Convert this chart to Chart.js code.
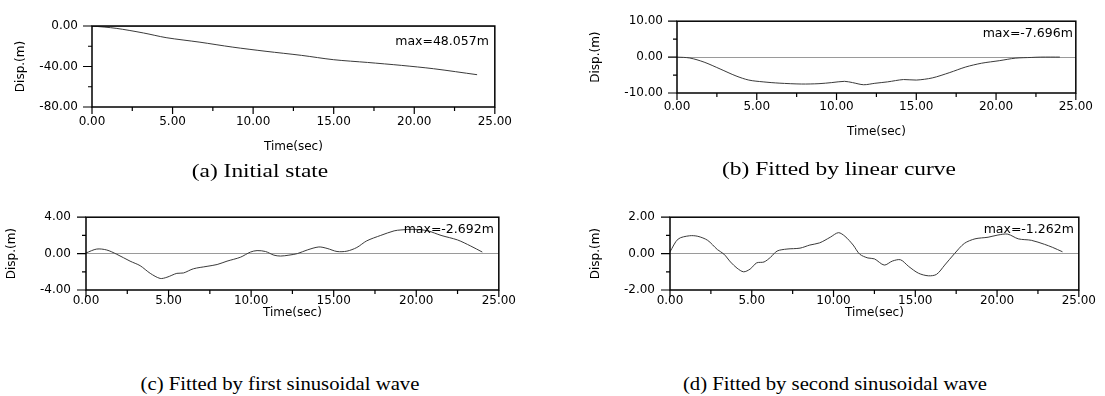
<!DOCTYPE html>
<html>
<head>
<meta charset="utf-8">
<script src="https://cdn.jsdelivr.net/npm/chart.js@4.4.1/dist/chart.umd.min.js"></script>
<style>
    body { margin: 0; background: #fff; }
    #lienzo { position: relative; width: 1105px; height: 396px; overflow: hidden; background: #fff; }
    .grafico { position: absolute; }
    .leyenda {
        position: absolute;
        font-family: 'Liberation Serif', 'Times New Roman', serif;
        font-size: 18px;
        color: #000;
        white-space: nowrap;
    }
</style>
</head>
<body>
<div id="lienzo">
    <canvas id="graficoA" class="grafico" width="520" height="165" style="left:0px;top:0px;"></canvas>
    <canvas id="graficoB" class="grafico" width="560" height="150" style="left:540px;top:0px;"></canvas>
    <canvas id="graficoC" class="grafico" width="520" height="135" style="left:0px;top:195px;"></canvas>
    <canvas id="graficoD" class="grafico" width="560" height="135" style="left:540px;top:195px;"></canvas>

    <div class="leyenda" style="left:260px;top:171px;transform:translate(-50%,-50%) scaleX(1.3);">(a) Initial state</div>
    <div class="leyenda" style="left:839px;top:169px;transform:translate(-50%,-50%) scaleX(1.3);">(b) Fitted by linear curve</div>
    <div class="leyenda" style="left:280px;top:384px;transform:translate(-50%,-50%) scaleX(1.15);">(c) Fitted by first sinusoidal wave</div>
    <div class="leyenda" style="left:835px;top:384px;transform:translate(-50%,-50%) scaleX(1.15);">(d) Fitted by second sinusoidal wave</div>
</div>

<script>
// Datos
const tiempoA = [0, 1.5, 3.2, 4.6, 6.7, 8.7, 10.8, 13.0, 15.0, 17.1, 19.2, 21.2, 23.9];
const despA = [0, -2.3, -6.9, -11.5, -16.0, -20.8, -25.0, -29.0, -33.3, -36.0, -38.9, -42.2, -48.1];

const tiempoB = [0, 0.8, 1.7, 2.7, 3.7, 4.5, 5.4, 6.4, 7.8, 8.9, 9.7, 10.5, 11.0, 11.7, 12.4, 13.2,
    14.2, 15.0, 16.0, 17.1, 18.1, 19.1, 20.2, 21.2, 22.2, 22.8, 24.0];
const despB = [0, -0.25, -1.4, -3.3, -5.25, -6.4, -6.9, -7.25, -7.5, -7.4, -7.1, -6.75, -7.1, -7.7, -7.3, -6.9,
    -6.25, -6.4, -5.8, -4.3, -2.75, -1.7, -1.0, -0.3, -0.1, 0, 0];

const tiempoC = [0, 0.65, 1.25, 1.86, 2.67, 3.28, 3.89, 4.49, 4.9, 5.5, 5.9, 6.5, 7.33, 7.94, 8.54, 9.35,
    9.96, 10.36, 10.87, 11.38, 11.78, 12.29, 12.8, 13.4, 14.1, 14.6, 15.2, 15.8, 16.4, 17.0, 17.85,
    18.66, 19.07, 19.9, 20.7, 21.5, 22.5, 23.3, 24.0];
const despC = [0.07, 0.5, 0.4, -0.07, -0.83, -1.33, -2.17, -2.73, -2.6, -2.17, -2.13, -1.67, -1.4, -1.2, -0.83, -0.4,
    0.17, 0.33, 0.23, -0.17, -0.27, -0.17, 0, 0.4, 0.73, 0.57, 0.23, 0.27, 0.67, 1.4, 2.0,
    2.5, 2.6, 2.67, 2.5, 2.0, 1.5, 0.83, 0.17];

const tiempoD = [0, 0.5, 1.2, 1.7, 2.3, 2.9, 3.3, 3.7, 4.1, 4.5, 4.9, 5.3, 5.75, 6.15, 6.55, 7.15, 7.95,
    8.55, 9.15, 9.8, 10.3, 10.7, 11.2, 11.6, 12.1, 12.5, 13.1, 13.6, 14.1, 14.6, 15.2, 15.8, 16.3,
    16.8, 17.4, 18.0, 18.65, 19.45, 20.05, 20.65, 21.3, 22.1, 22.9, 23.4, 24.0];
const despD = [0.1, 0.8, 0.98, 0.95, 0.73, 0.22, -0.03, -0.46, -0.8, -1.0, -0.85, -0.51, -0.46, -0.2, 0.14, 0.25, 0.3,
    0.47, 0.59, 0.9, 1.15, 0.95, 0.47, -0.03, -0.24, -0.29, -0.63, -0.41, -0.34, -0.71, -1.08, -1.22, -1.14,
    -0.63, 0, 0.56, 0.81, 0.9, 1.02, 1.07, 0.81, 0.73, 0.51, 0.34, 0.1];

// Marcas con etiqueta
const marcasX = [0, 5, 10, 15, 20, 25];
const marcasA = [-80, -40, 0];
const marcasB = [-10, 0, 10];
const marcasC = [-4, 0, 4];
const marcasD = [-2, 0, 2];

const fuente = { family: "'DejaVu Sans', sans-serif", size: 12 };

/**
 * Dibuja el recuadro, las marcas de los ejes y el texto del maximo
 */
const marcoPlugin = {
    id: 'marco',
    afterDraw(chart, args, opts) {
        const { ctx, chartArea: a, scales } = chart;
        ctx.save();
        ctx.strokeStyle = '#000';
        ctx.lineWidth = 1.5;
        ctx.strokeRect(a.left, a.top, a.right - a.left, a.bottom - a.top);

        ctx.lineWidth = 1.2;
        ctx.beginPath();
        scales.x.ticks.forEach(t => {
            const px = scales.x.getPixelForValue(t.value);
            const largo = t.label ? 7 : 4;
            ctx.moveTo(px, a.bottom);
            ctx.lineTo(px, a.bottom + largo);
        });
        scales.y.ticks.forEach(t => {
            const py = scales.y.getPixelForValue(t.value);
            const largo = t.label ? 9 : 4;
            ctx.moveTo(a.left - largo, py);
            ctx.lineTo(a.left, py);
        });
        ctx.stroke();

        if (opts.texto) {
            ctx.font = "12.5px 'DejaVu Sans', sans-serif";
            ctx.fillStyle = '#000';
            ctx.textAlign = 'right';
            ctx.textBaseline = 'middle';
            ctx.fillText(opts.texto, a.right - opts.dx, a.top + opts.dy);
        }
        ctx.restore();
    }
};

function crearGrafico(id, tiempos, valores, cfg) {
    const canvas = document.getElementById(id);
    const puntos = tiempos.map((t, i) => ({ x: t, y: valores[i] }));

    return new Chart(canvas, {
        type: 'line',
        data: {
            datasets: [{
                data: puntos,
                borderColor: '#3a3a3a',
                borderWidth: 1,
                pointRadius: 0,
                tension: 0.3,
                fill: false
            }]
        },
        options: {
            responsive: false,
            animation: false,
            layout: { padding: { left: 0, top: cfg.arriba, right: cfg.derecha, bottom: 0 } },
            plugins: {
                legend: { display: false },
                tooltip: { enabled: false },
                marco: { texto: cfg.maximo, dx: cfg.dx, dy: cfg.dy }
            },
            scales: {
                x: {
                    type: 'linear',
                    min: 0,
                    max: 25,
                    ticks: {
                        stepSize: 2.5,
                        autoSkip: false,
                        maxRotation: 0,
                        padding: cfg.padX,
                        color: '#000',
                        font: fuente,
                        callback: v => marcasX.includes(v) ? v.toFixed(2) : ''
                    },
                    grid: { display: false, drawTicks: false },
                    border: { display: false },
                    title: {
                        display: true,
                        text: 'Time(sec)',
                        color: '#000',
                        font: fuente,
                        padding: { top: 0, bottom: cfg.tituloX }
                    },
                    afterFit: s => { s.height = cfg.altoX; }
                },
                y: {
                    type: 'linear',
                    min: cfg.marcas[0],
                    max: cfg.marcas[cfg.marcas.length - 1],
                    ticks: {
                        stepSize: (cfg.marcas[1] - cfg.marcas[0]) / 2,
                        autoSkip: false,
                        padding: cfg.padY,
                        color: '#000',
                        font: fuente,
                        callback: v => cfg.marcas.includes(v) ? v.toFixed(2) : ''
                    },
                    grid: {
                        drawTicks: false,
                        lineWidth: 1,
                        color: c => c.tick && c.tick.value === 0 ? '#9a9a9a' : 'rgba(0,0,0,0)'
                    },
                    border: { display: false },
                    title: {
                        display: true,
                        text: 'Disp.(m)',
                        color: '#000',
                        font: fuente,
                        padding: { top: cfg.tituloY, bottom: 0 }
                    },
                    afterFit: s => { s.width = cfg.anchoY; }
                }
            }
        },
        plugins: [marcoPlugin]
    });
}

document.addEventListener('DOMContentLoaded', function() {
    crearGrafico('graficoA', tiempoA, despA, {
        marcas: marcasA, maximo: 'max=48.057m', dx: 6, dy: 16,
        arriba: 26, derecha: 22, anchoY: 92, altoX: 58,
        padX: 8, padY: 14, tituloX: 11, tituloY: 14
    });
    crearGrafico('graficoB', tiempoB, despB, {
        marcas: marcasB, maximo: 'max=-7.696m', dx: 3, dy: 13,
        arriba: 13, derecha: 19, anchoY: 137, altoX: 57,
        padX: 7, padY: 14, tituloX: 11, tituloY: 49
    });
    crearGrafico('graficoC', tiempoC, despC, {
        marcas: marcasC, maximo: 'max=-2.692m', dx: 5, dy: 13,
        arriba: 15, derecha: 21, anchoY: 86, altoX: 40,
        padX: 4, padY: 15, tituloX: 10, tituloY: 5
    });
    crearGrafico('graficoD', tiempoD, despD, {
        marcas: marcasD, maximo: 'max=-1.262m', dx: 5, dy: 13,
        arriba: 15, derecha: 17, anchoY: 130, altoX: 40,
        padX: 4, padY: 15, tituloX: 10, tituloY: 49
    });
});
</script>
</body>
</html>
